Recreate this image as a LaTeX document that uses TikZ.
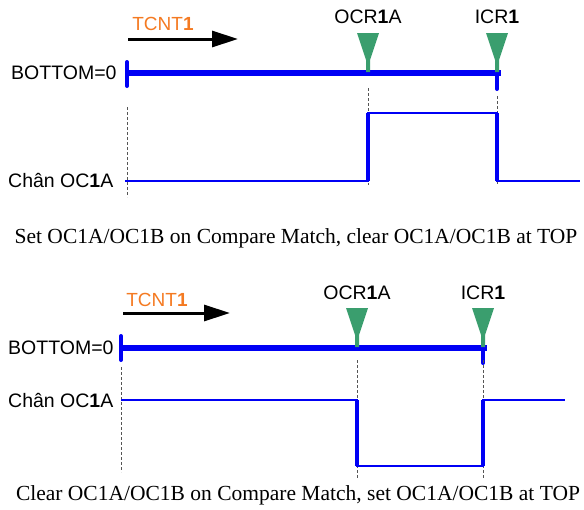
\documentclass[tikz,border=0pt]{standalone}
\usepackage{fontspec}
\setmainfont{Liberation Serif}
\setsansfont{Liberation Sans}
\usetikzlibrary{arrows.meta}
\definecolor{wave}{HTML}{0000F5}
\definecolor{tcnt}{HTML}{F47A22}
\definecolor{flag}{HTML}{3A9E6E}
\definecolor{guidecolor}{HTML}{555555}

\begin{document}
\begin{tikzpicture}[x=1pt, y=-1pt,
    every node/.style={font=\sffamily, inner sep=0pt},
    lab/.style={font=\sffamily\fontsize{19.5}{22}\selectfont},
    cnt/.style={font=\sffamily\fontsize{19}{22}\selectfont, text=tcnt},
    caption/.style={font=\rmfamily\fontsize{21.5}{24}\selectfont},
    bar/.style={wave, line width=5.5pt},
    tick/.style={wave, line width=4pt, line cap=round},
    wire/.style={wave, line width=2.8pt, line join=miter},
    edge/.style={wave, line width=4pt},
    guide/.style={guidecolor, line width=0.7pt, dash pattern=on 3pt off 2pt},
    run/.style={black, line width=3pt, -{Triangle[length=26pt, width=16pt]}},
]
\useasboundingbox (0,0) rectangle (584,509);

% flag on the bar: stem, then a wide triangle
\def\flagat#1{\fill[flag] (#1) ++(-2,-1) -- ++(0,-12) -- ++(-9,-27)
    -- ++(22,0) -- ++(-9,27) -- ++(0,12) -- cycle;}
\def\one{\textbf{1}}

% ---------------------------------------------------------------- set on match
\node[cnt] (cnt1) at (163, 24) {TCNT\one};
\coordinate (runa1) at (128, 39);
\coordinate (runb1) at (238, 39);
\draw[run] (runa1) -- (runb1);

\node[lab, anchor=west] (bot1) at (11, 73) {BOTTOM=0};
\coordinate (b1) at (127, 73);
\coordinate (e1) at (501, 73);
\draw[bar] (b1) -- (e1);
\draw[tick] (b1) ++(0,-11) -- ++(0,24);
\draw[tick] (497, 70) -- (497, 89);

\foreach \x/\name in {368/OCR\one A, 497/ICR\one}{
    \coordinate (m\x) at (\x, 73);
    \flagat{m\x}
    \node[lab] (l\x) at (\x, 17) {\name};
}

\draw[guide] (127, 107) -- (127, 197);
\draw[guide] (368, 88) -- (368, 185);
\draw[guide] (497, 96) -- (497, 185);

\node[lab, anchor=west] (pin1) at (8, 180) {Chân OC\one A};
\coordinate (w1) at (125, 181);
\coordinate (w2) at (368, 181);
\coordinate (w3) at (368, 113);
\coordinate (w4) at (497, 113);
\coordinate (w5) at (497, 181);
\coordinate (w6) at (580, 181);
\draw[wire] (w1) -- (w2) -- (w3) -- (w4) -- (w5) -- (w6);
\draw[edge] (w2) -- (w3) (w4) -- (w5);

\node[caption] (cap1) at (296, 238)
    {Set OC1A/OC1B on Compare Match, clear OC1A/OC1B at TOP};

% ---------------------------------------------------------------- clear on match
\node[cnt] (cnt2) at (157, 300) {TCNT\one};
\coordinate (runa2) at (123, 313);
\coordinate (runb2) at (230, 313);
\draw[run] (runa2) -- (runb2);

\node[lab, anchor=west] (bot2) at (8, 348) {BOTTOM=0};
\coordinate (b2) at (121, 348);
\coordinate (e2) at (487, 348);
\draw[bar] (b2) -- (e2);
\draw[tick] (b2) ++(0,-12) -- ++(0,24);
\draw[tick] (483, 345) -- (483, 363);

\foreach \x/\name in {357/OCR\one A, 483/ICR\one}{
    \coordinate (n\x) at (\x, 348);
    \flagat{n\x}
    \node[lab] (k\x) at (\x, 293) {\name};
}

\draw[guide] (121, 367) -- (121, 472);
\draw[guide] (357, 360) -- (357, 478);
\draw[guide] (483, 360) -- (483, 478);

\node[lab, anchor=west] (pin2) at (8, 400) {Chân OC\one A};
\coordinate (v1) at (121, 400);
\coordinate (v2) at (357, 400);
\coordinate (v3) at (357, 466);
\coordinate (v4) at (483, 466);
\coordinate (v5) at (483, 400);
\coordinate (v6) at (565, 400);
\draw[wire] (v1) -- (v2) -- (v3) -- (v4) -- (v5) -- (v6);
\draw[edge] (v2) -- (v3) (v4) -- (v5);

\node[caption] (cap2) at (298, 495)
    {Clear OC1A/OC1B on Compare Match, set OC1A/OC1B at TOP};

\end{tikzpicture}
\end{document}
